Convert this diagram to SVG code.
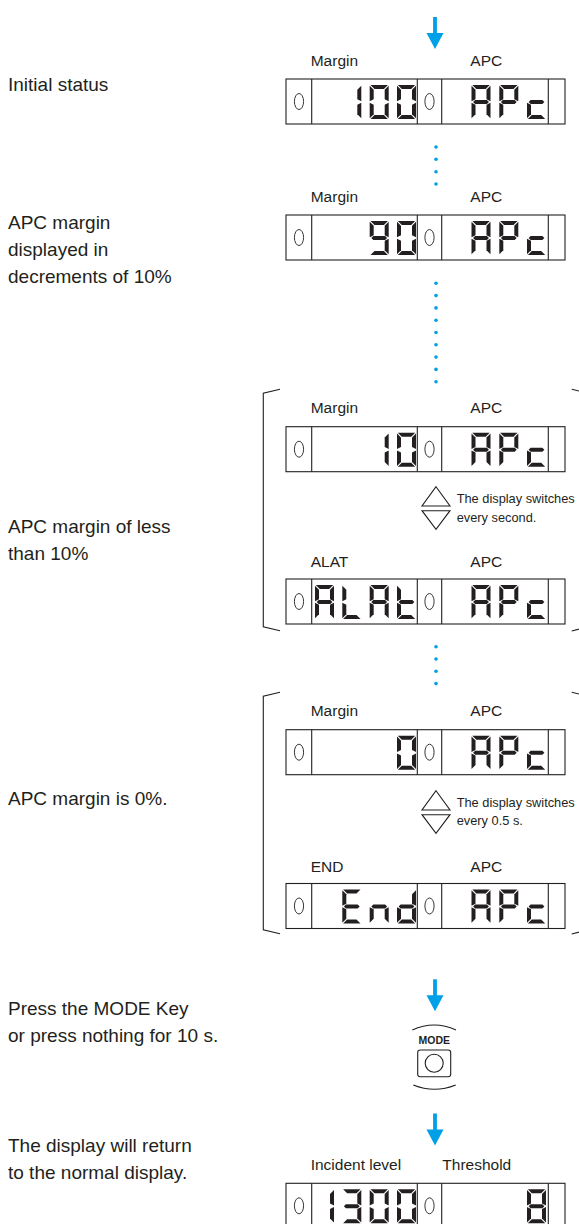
<svg xmlns="http://www.w3.org/2000/svg" xmlns:xlink="http://www.w3.org/1999/xlink" width="579" height="1224" viewBox="0 0 579 1224">
<style>
.lt{font-family:"Liberation Sans",Arial,sans-serif;font-size:19px;fill:#231f20}
.lb{font-family:"Liberation Sans",Arial,sans-serif;font-size:15.5px;fill:#231f20}
.nt{font-family:"Liberation Sans",Arial,sans-serif;font-size:12.8px;fill:#231f20}
.fr{fill:none;stroke:#231f20;stroke-width:1.1}
.ind{fill:none;stroke:#231f20;stroke-width:0.9}
.seg{fill:#231f20}
.dot{fill:#00a0e9}
.arr{fill:#00a0e9}
.ln{fill:none;stroke:#231f20;stroke-width:1.1}
</style>
<defs>
<polygon id="sa" class="seg" points="0.8,0 18.2,0 14.2,4 4.8,4"/>
<polygon id="sb" class="seg" points="19,0.8 19,16.2 15,14.2 15,4.8"/>
<polygon id="sc" class="seg" points="19,17.8 19,33.2 15,29.2 15,19.8"/>
<polygon id="sd" class="seg" points="0.8,34 4.8,30 14.2,30 18.2,34"/>
<polygon id="se" class="seg" points="0,17.8 4,19.8 4,29.2 0,33.2"/>
<polygon id="sf" class="seg" points="0,0.8 4,4.8 4,14.2 0,16.2"/>
<polygon id="sg" class="seg" points="1.6,17 3.6,15 15.4,15 17.4,17 15.4,19 3.6,19"/>
<g id="c0"><use href="#sa"/><use href="#sb"/><use href="#sc"/><use href="#sd"/><use href="#se"/><use href="#sf"/></g>
<g id="c1"><use href="#sb"/><use href="#sc"/></g>
<g id="c3"><use href="#sa"/><use href="#sb"/><use href="#sc"/><use href="#sd"/><use href="#sg"/></g>
<g id="c8"><use href="#sa"/><use href="#sb"/><use href="#sc"/><use href="#sd"/><use href="#se"/><use href="#sf"/><use href="#sg"/></g>
<g id="c9"><use href="#sa"/><use href="#sb"/><use href="#sc"/><use href="#sd"/><use href="#sf"/><use href="#sg"/></g>
<g id="cA"><use href="#sa"/><use href="#sb"/><use href="#sc"/><use href="#se"/><use href="#sf"/><use href="#sg"/></g>
<g id="cP"><use href="#sa"/><use href="#sb"/><use href="#se"/><use href="#sf"/><use href="#sg"/></g>
<g id="cc"><use href="#sd"/><use href="#se"/><use href="#sg"/></g>
<g id="cL"><use href="#sd"/><use href="#se"/><use href="#sf"/></g>
<g id="ct"><use href="#sd"/><use href="#se"/><use href="#sf"/><use href="#sg"/></g>
<g id="cE"><use href="#sa"/><use href="#sd"/><use href="#se"/><use href="#sf"/><use href="#sg"/></g>
<g id="cn"><use href="#sc"/><use href="#se"/><use href="#sg"/></g>
<g id="cd"><use href="#sb"/><use href="#sc"/><use href="#sd"/><use href="#se"/><use href="#sg"/></g>
<g id="frame">
<rect class="fr" x="0" y="0" width="279" height="45"/>
<line class="fr" x1="25.7" y1="0" x2="25.7" y2="45"/>
<line class="fr" x1="131.3" y1="0" x2="131.3" y2="45"/>
<line class="fr" x1="155.7" y1="0" x2="155.7" y2="45"/>
<line class="fr" x1="262.3" y1="0" x2="262.3" y2="45"/>
<ellipse class="ind" cx="13" cy="22.5" rx="4.6" ry="8"/>
<ellipse class="ind" cx="143.5" cy="22.5" rx="4.6" ry="8"/>
</g>
<g id="apc"><use href="#cA" x="185.5" y="6"/><use href="#cP" x="213.3" y="6"/><use href="#cc" x="241" y="6"/></g>
<g id="arrow"><rect class="arr" x="-1.9" y="0" width="3.8" height="18"/><polygon class="arr" points="-8.5,16 8.5,16 0,32"/></g>
<g id="updown"><polygon class="ln" points="0,0 14,19.3 -14,19.3"/><polygon class="ln" points="-14,24 14,24 0,42.6"/></g>
</defs>

<g id="left-texts">
<text class="lt" x="8" y="91">Initial status</text>
<text class="lt" x="8" y="229">APC margin</text>
<text class="lt" x="8" y="256">displayed in</text>
<text class="lt" x="8" y="283">decrements of 10%</text>
<text class="lt" x="8" y="533">APC margin of less</text>
<text class="lt" x="8" y="560">than 10%</text>
<text class="lt" x="8" y="805">APC margin is 0%.</text>
<text class="lt" x="8" y="1015">Press the MODE Key</text>
<text class="lt" x="8" y="1042">or press nothing for 10 s.</text>
<text class="lt" x="8" y="1152">The display will return</text>
<text class="lt" x="8" y="1179">to the normal display.</text>
</g>

<g id="connectors">
<use href="#arrow" x="435" y="17"/>
<circle class="dot" cx="436" cy="147" r="1.8"/>
<circle class="dot" cx="436" cy="159.3" r="1.8"/>
<circle class="dot" cx="436" cy="171.7" r="1.8"/>
<circle class="dot" cx="436" cy="184" r="1.8"/>
<circle class="dot" cx="436" cy="283.3" r="1.8"/>
<circle class="dot" cx="436" cy="295.6" r="1.8"/>
<circle class="dot" cx="436" cy="307.9" r="1.8"/>
<circle class="dot" cx="436" cy="320.2" r="1.8"/>
<circle class="dot" cx="436" cy="332.5" r="1.8"/>
<circle class="dot" cx="436" cy="344.8" r="1.8"/>
<circle class="dot" cx="436" cy="357.1" r="1.8"/>
<circle class="dot" cx="436" cy="369.4" r="1.8"/>
<circle class="dot" cx="436" cy="381.7" r="1.8"/>
<circle class="dot" cx="436" cy="646.7" r="1.8"/>
<circle class="dot" cx="436" cy="659" r="1.8"/>
<circle class="dot" cx="436" cy="671.3" r="1.8"/>
<circle class="dot" cx="436" cy="683.6" r="1.8"/>
<use href="#arrow" x="435" y="979.3"/>
<use href="#arrow" x="435" y="1113.5"/>
</g>

<g id="panel-initial" transform="translate(286,79)">
<text class="lb" x="24.7" y="-13.3">Margin</text>
<text class="lb" x="184.3" y="-13.3">APC</text>
<use href="#frame"/>
<use href="#c1" x="56.3" y="6"/><use href="#c0" x="83.7" y="6"/><use href="#c0" x="111" y="6"/>
<use href="#apc"/>
</g>

<g id="panel-90" transform="translate(286,215)">
<text class="lb" x="24.7" y="-13.3">Margin</text>
<text class="lb" x="184.3" y="-13.3">APC</text>
<use href="#frame"/>
<use href="#c9" x="83.7" y="6"/><use href="#c0" x="111" y="6"/>
<use href="#apc"/>
</g>

<g id="group-less10">
<path class="ln" d="M280,389.3 L263.3,393.3 L263.3,626.7 L280,630.7"/>
<path class="ln" d="M571.7,389.3 L588.4,393.3 L588.4,626.7 L571.7,631"/>
<g id="panel-10" transform="translate(286,426.7)">
<text class="lb" x="24.7" y="-13.3">Margin</text>
<text class="lb" x="184.3" y="-13.3">APC</text>
<use href="#frame"/>
<use href="#c1" x="83.7" y="6"/><use href="#c0" x="111" y="6"/>
<use href="#apc"/>
</g>
<use href="#updown" x="436" y="486.7"/>
<text class="nt" x="456.7" y="503.3">The display switches</text>
<text class="nt" x="456.7" y="521.7">every second.</text>
<g id="panel-alat" transform="translate(286,579)">
<text class="lb" x="24.7" y="-12">ALAT</text>
<text class="lb" x="184.3" y="-12">APC</text>
<use href="#frame"/>
<use href="#cA" x="29" y="6"/><use href="#cL" x="56.3" y="6"/><use href="#cA" x="83.7" y="6"/><use href="#ct" x="111" y="6"/>
<use href="#apc"/>
</g>
</g>

<g id="group-zero">
<path class="ln" d="M280,692.3 L263.3,696.3 L263.3,929.7 L280,933.7"/>
<path class="ln" d="M571.7,692.3 L588.4,696.3 L588.4,929.7 L571.7,934"/>
<g id="panel-0" transform="translate(286,729.7)">
<text class="lb" x="24.7" y="-13.3">Margin</text>
<text class="lb" x="184.3" y="-13.3">APC</text>
<use href="#frame"/>
<use href="#c0" x="111" y="6"/>
<use href="#apc"/>
</g>
<use href="#updown" x="436" y="790.7"/>
<text class="nt" x="456.7" y="806.7">The display switches</text>
<text class="nt" x="456.7" y="824.5">every 0.5 s.</text>
<g id="panel-end" transform="translate(286,883.5)">
<text class="lb" x="24.7" y="-12">END</text>
<text class="lb" x="184.3" y="-12">APC</text>
<use href="#frame"/>
<use href="#cE" x="56.3" y="6"/><use href="#cn" x="83.7" y="6"/><use href="#cd" x="111" y="6"/>
<use href="#apc"/>
</g>
</g>

<g id="mode-key">
<path class="ln" d="M412.3,1030 Q434.2,1020 456,1030"/>
<text x="434.3" y="1044" text-anchor="middle" style="font-family:'Liberation Sans',Arial,sans-serif;font-size:10.5px;font-weight:bold;fill:#231f20">MODE</text>
<rect class="ln" x="417.7" y="1050" width="33" height="26.7" rx="2.5"/>
<circle class="ln" cx="434.2" cy="1063.3" r="9"/>
<path class="ln" d="M413.3,1085 Q434.5,1093.6 455.7,1085"/>
</g>

<g id="panel-normal" transform="translate(286,1183.3)">
<text class="lb" x="24.7" y="-13.3">Incident level</text>
<text class="lb" x="156.3" y="-13.3">Threshold</text>
<use href="#frame"/>
<use href="#c1" x="29" y="6"/><use href="#c3" x="56.3" y="6"/><use href="#c0" x="83.7" y="6"/><use href="#c0" x="111" y="6"/>
<use href="#c8" x="241" y="6"/>
</g>
</svg>
